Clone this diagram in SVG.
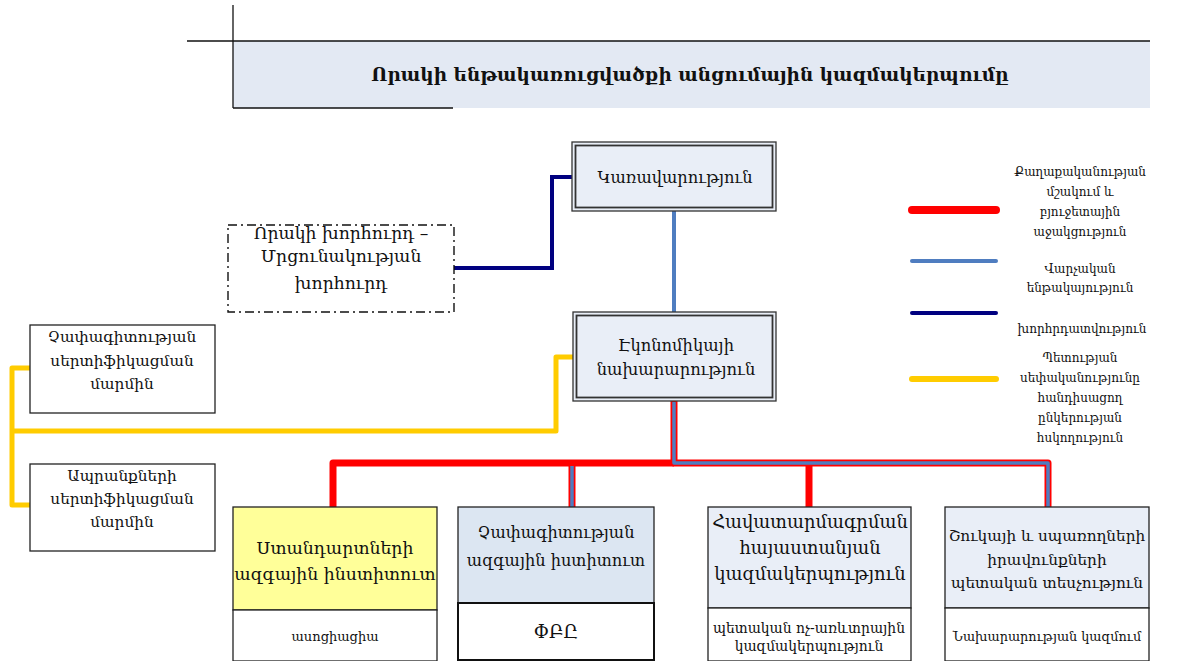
<svg xmlns="http://www.w3.org/2000/svg" width="1178" height="661" viewBox="0 0 1178 661">
<style>
text{font-family:"DejaVu Serif","Noto Serif",serif;fill:#111;text-anchor:middle}
.t13{font-size:12px}
.box{stroke:#222;stroke-width:1.3}
.red{fill:none;stroke:#ff0000;stroke-width:7;stroke-linejoin:round}
.redo{fill:none;stroke:#ff0000;stroke-width:7;stroke-linejoin:round}
.blu{fill:none;stroke:#4f7dc0;stroke-width:3.5;stroke-linejoin:round}
.navy{fill:none;stroke:#000080;stroke-width:4}
.yel{fill:none;stroke:#ffcc00;stroke-width:5;stroke-linejoin:round}
</style>
<rect width="1178" height="661" fill="#fff"/>
<g id="title">
<rect x="233" y="41" width="917" height="67" fill="#e3e9f3"/>
<line x1="187" y1="41" x2="1150" y2="41" stroke="#111" stroke-width="1.3"/>
<line x1="233" y1="5" x2="233" y2="108" stroke="#111" stroke-width="1.3"/>
<line x1="233" y1="108" x2="453" y2="108" stroke="#111" stroke-width="1.3"/>
<text x="690" y="81" style="font-size:18.5px;font-weight:bold">Որակի ենթակառուցվածքի  անցումային կազմակերպումը</text>
</g>
<g id="connectors">
<polyline class="navy" points="454,268 552,268 552,177 573,177"/>
<line x1="674" y1="211" x2="674" y2="312" stroke="#4f7dc0" stroke-width="4"/>
<polyline class="yel" points="573,357 556,357 556,431 12,431"/>
<polyline class="yel" points="30,368 12,368 12,505 30,505"/>
<polyline class="red" points="333,507 333,463 674,463"/>
<line class="red" x1="809" y1="463" x2="809" y2="507"/>
<polyline class="redo" points="674,401 674,463 1048,463 1048,507"/>
<line class="redo" x1="572" y1="463" x2="572" y2="507"/>
<polyline class="blu" points="674,402 674,463 1048,463 1048,507"/>
<line class="blu" x1="572" y1="466" x2="572" y2="507"/>
</g>
<g id="legend">
<line x1="912" y1="210" x2="996" y2="210" stroke="#ff0000" stroke-width="8" stroke-linecap="round"/>
<line x1="912" y1="261" x2="996" y2="261" stroke="#4f7dc0" stroke-width="4" stroke-linecap="round"/>
<line x1="912" y1="313" x2="996" y2="313" stroke="#000080" stroke-width="4" stroke-linecap="round"/>
<line x1="912" y1="379" x2="996" y2="379" stroke="#ffcc00" stroke-width="6" stroke-linecap="round"/>
<text class="t13" x="1080" y="176">Քաղաքականության</text>
<text class="t13" x="1080" y="196">մշակում և</text>
<text class="t13" x="1080" y="216">բյուջետային</text>
<text class="t13" x="1080" y="236">աջակցություն</text>
<text class="t13" x="1080" y="273">Վարչական</text>
<text class="t13" x="1080" y="292">ենթակայություն</text>
<text class="t13" x="1082" y="333">խորհրդատվություն</text>
<text class="t13" x="1080" y="362">Պետության</text>
<text class="t13" x="1080" y="382">սեփականությունը</text>
<text class="t13" x="1080" y="402">հանդիսացող</text>
<text class="t13" x="1080" y="422">ընկերության</text>
<text class="t13" x="1080" y="442">հսկողություն</text>
</g>
<g id="node-government">
<rect x="572" y="142" width="204" height="69" fill="#e9eef7" stroke="#333" stroke-width="1.3"/>
<rect x="575.5" y="145.5" width="197" height="62" fill="none" stroke="#333" stroke-width="1.8"/>
<text x="675" y="183" style="font-size:16.2px">Կառավարություն</text>
</g>
<g id="node-council">
<rect x="228" y="225" width="226" height="87" fill="#fff" stroke="#111" stroke-width="1.4" stroke-dasharray="9,4,2,4"/>
<text x="341" y="239" style="font-size:17.2px">Որակի խորհուրդ –</text>
<text x="341" y="262" style="font-size:17.2px">Մրցունակության</text>
<text x="341" y="289" style="font-size:17.2px">խորհուրդ</text>
</g>
<g id="node-economy">
<rect x="573" y="312" width="203" height="89" fill="#e9eef7" stroke="#333" stroke-width="1.3"/>
<rect x="576.5" y="315.5" width="196" height="82" fill="none" stroke="#333" stroke-width="1.8"/>
<text x="676" y="351" style="font-size:16.3px">Էկոնոմիկայի</text>
<text x="676" y="375" style="font-size:16.3px">նախարարություն</text>
</g>
<g id="node-metrology-cert">
<rect class="box" x="30" y="325" width="185" height="88" fill="#fff"/>
<text x="122" y="342" style="font-size:15.3px">Չափագիտության</text>
<text x="122" y="366" style="font-size:15.3px">սերտիֆիկացման</text>
<text x="122" y="389" style="font-size:15.3px">մարմին</text>
</g>
<g id="node-goods-cert">
<rect class="box" x="30" y="464" width="185" height="87" fill="#fff"/>
<text x="122" y="481" style="font-size:15.3px">Ապրանքների</text>
<text x="122" y="504" style="font-size:15.3px">սերտիֆիկացման</text>
<text x="122" y="527" style="font-size:15.3px">մարմին</text>
</g>
<g id="node-standards">
<rect class="box" x="233" y="507" width="204" height="103" fill="#ffff99"/>
<rect class="box" x="233" y="610" width="204" height="51" fill="#fff"/>
<text x="335" y="554" style="font-size:17.3px">Ստանդարտների</text>
<text x="335" y="580" style="font-size:17.3px">ազգային ինստիտուտ</text>
<text x="335" y="641" style="font-size:13px">ասոցիացիա</text>
</g>
<g id="node-metrology">
<rect class="box" x="458" y="507" width="196" height="96" fill="#dce6f2"/>
<rect x="458" y="603" width="196" height="57" fill="#fff" stroke="#111" stroke-width="2"/>
<text x="556" y="538" style="font-size:16.2px">Չափագիտության</text>
<text x="556" y="566" style="font-size:16.2px">ազգային իստիտուտ</text>
<text x="556" y="638" style="font-size:18px">ՓԲԸ</text>
</g>
<g id="node-accreditation">
<rect class="box" x="708" y="507" width="203" height="101" fill="#e9eef7"/>
<rect class="box" x="708" y="608" width="203" height="53" fill="#fff"/>
<text x="810" y="528" style="font-size:17.9px">Հավատարմագրման</text>
<text x="810" y="554" style="font-size:17.9px">հայաստանյան</text>
<text x="810" y="580" style="font-size:17.9px">կազմակերպություն</text>
<text x="809" y="633" style="font-size:13.9px">պետական ոչ-առևտրային</text>
<text x="809" y="651" style="font-size:13.9px">կազմակերպություն</text>
</g>
<g id="node-inspection">
<rect class="box" x="945" y="507" width="204" height="101" fill="#e9eef7"/>
<rect class="box" x="945" y="608" width="204" height="53" fill="#fff"/>
<text x="1047" y="541" style="font-size:15.3px">Շուկայի և սպառողների</text>
<text x="1047" y="565" style="font-size:15.3px">իրավունքների</text>
<text x="1047" y="588" style="font-size:15.3px">պետական տեսչություն</text>
<text x="1047" y="641" style="font-size:12.8px">Նախարարության կազմում</text>
</g>
</svg>
